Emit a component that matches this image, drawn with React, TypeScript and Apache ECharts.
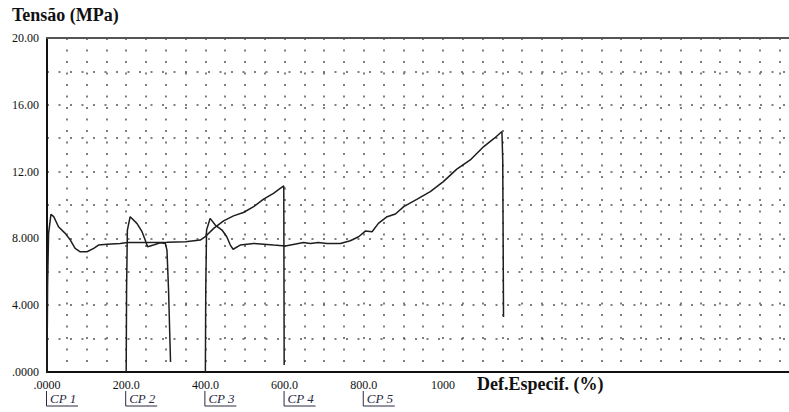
import React, { useEffect, useRef } from "react";
import * as echarts from "echarts";

const titleText = "Tensão (MPa)";
const xAxisTitle = "Def.Especif. (%)";

const yTickLabels: Record<number, string> = {
  0: ".0000",
  4: "4.000",
  8: "8.000",
  12: "12.00",
  16: "16.00",
  20: "20.00",
};
const xTickLabels: Record<number, string> = {
  0: ".0000",
  200: "200.0",
  400: "400.0",
  600: "600.0",
  800: "800.0",
  1000: "1000",
};

const cpNames = ["CP 1", "CP 2", "CP 3", "CP 4", "CP 5"];
const cpOffsets = [0, 200, 400, 600, 800];

const cp1: [number, number][] = [
  [0, 0], [1.5, 5.2], [4, 8.3], [10, 9.44], [17, 9.3], [29, 8.7], [46, 8.3],
  [59, 7.9], [71, 7.4], [84, 7.2], [101, 7.2], [118, 7.4], [130, 7.6],
  [152, 7.65], [185, 7.7], [203, 7.75], [250, 7.75], [303, 7.77], [350, 7.8],
  [387, 7.9], [400, 8.1], [404, 8.2], [421, 8.6], [446, 9.05], [471, 9.35],
  [496, 9.55], [522, 9.9], [547, 10.35], [572, 10.7], [589, 11.0],
  [598, 11.14], [599, 0.42],
];

const cp2: [number, number][] = [
  [200, 0], [201, 5], [203, 8.5], [210, 9.3], [227, 8.9], [240, 8.4],
  [248, 7.9], [254, 7.5], [269, 7.6], [286, 7.74], [299, 7.7], [303, 7.3],
  [307, 4.9], [312, 0.6],
];

const cp3: [number, number][] = [
  [400, 0], [401, 5], [403, 8.5], [412, 9.2], [425, 8.8], [442, 8.5],
  [454, 8.1], [463, 7.6], [470, 7.35], [488, 7.6], [522, 7.7], [572, 7.6],
  [602, 7.55], [625, 7.65], [648, 7.75], [665, 7.7], [685, 7.75], [707, 7.7],
  [741, 7.7], [766, 7.86], [787, 8.1], [804, 8.44], [821, 8.4], [837, 8.9],
  [859, 9.3], [880, 9.46], [901, 9.9], [935, 10.35], [968, 10.8],
  [1001, 11.4], [1035, 12.15], [1069, 12.7], [1103, 13.5], [1130, 14.0],
  [1149, 14.4], [1151, 12.7], [1153, 3.3],
];

const seriesList = [
  { name: "CP 1", data: cp1 },
  { name: "CP 2", data: cp2 },
  { name: "CP 3", data: cp3 },
];

const SERIF = "'Liberation Serif', 'DejaVu Serif', serif";

export default function App() {
  const ref = useRef<HTMLDivElement>(null);

  useEffect(() => {
    if (!ref.current) return;
    const chart = echarts.init(ref.current, null, { renderer: "svg" });
    const gridLine = { type: [2, 9.5] as any, color: "#555", width: 1.5 };
    const option: any = {
      animation: false,
      backgroundColor: "#ffffff",
      grid: { left: 47, top: 38, right: 0, bottom: 40, containLabel: false },
      xAxis: [
        {
          type: "value",
          min: 0,
          max: 1874,
          interval: 50,
          axisLine: { show: true, onZero: false, lineStyle: { color: "#111", width: 2 } },
          axisTick: { show: false },
          splitLine: { show: true, showMinLine: false, showMaxLine: false, lineStyle: gridLine },
          axisLabel: {
            interval: 0,
            showMaxLabel: false,
            margin: 7,
            color: "#111",
            fontFamily: SERIF,
            fontSize: 12,
            formatter: (v: number) => (xTickLabels[v] !== undefined ? xTickLabels[v] : ""),
          },
        },
        {
          type: "value",
          position: "top",
          min: 0,
          max: 1874,
          axisLine: { show: true, onZero: false, lineStyle: { color: "#555", width: 2 } },
          axisTick: { show: false },
          axisLabel: { show: false },
          splitLine: { show: false },
        },
      ],
      yAxis: {
        type: "value",
        min: 0,
        max: 20,
        interval: 2,
        axisLine: { show: true, onZero: false, lineStyle: { color: "#111", width: 2 } },
        axisTick: { show: false },
        splitLine: { show: true, showMinLine: false, showMaxLine: false, lineStyle: gridLine },
        axisLabel: {
          margin: 8,
          color: "#111",
          fontFamily: SERIF,
          fontSize: 12,
          formatter: (v: number) => (yTickLabels[v] !== undefined ? yTickLabels[v] : ""),
        },
      },
      series: seriesList.map((s) => ({
        name: s.name,
        type: "line",
        data: s.data,
        showSymbol: false,
        symbol: "none",
        smooth: false,
        lineStyle: { color: "#1e1e1e", width: 1.5 },
      })),
      graphic: [
        {
          type: "text",
          left: 12,
          top: 6,
          style: {
            text: titleText,
            font: `bold 18px ${SERIF}`,
            fill: "#111",
          },
        },
        {
          type: "text",
          left: 477,
          top: 375,
          style: {
            text: xAxisTitle,
            font: `bold 18px ${SERIF}`,
            fill: "#111",
          },
        },
      ],
    };
    chart.setOption(option);

    const cpGraphics: any[] = [];
    cpOffsets.forEach((off, i) => {
      const px = chart.convertToPixel({ xAxisIndex: 0 }, off) as number;
      cpGraphics.push({
        type: "line",
        shape: { x1: px - 0.5, y1: 391, x2: px - 0.5, y2: 406 },
        style: { stroke: "#2a2a44", lineWidth: 1 },
      });
      cpGraphics.push({
        type: "line",
        shape: { x1: px - 0.5, y1: 406, x2: px + 31, y2: 406 },
        style: { stroke: "#2a2a44", lineWidth: 1 },
      });
      cpGraphics.push({
        type: "text",
        x: px + 3,
        y: 392,
        style: {
          text: cpNames[i],
          font: `italic 13px ${SERIF}`,
          fill: "#2a2a44",
        },
      });
    });
    chart.setOption({ graphic: [...option.graphic, ...cpGraphics] });

    return () => chart.dispose();
  }, []);

  return (
    <div
      ref={ref}
      style={{ position: "fixed", left: 0, top: 0, width: 789, height: 412, background: "#fff" }}
    />
  );
}
